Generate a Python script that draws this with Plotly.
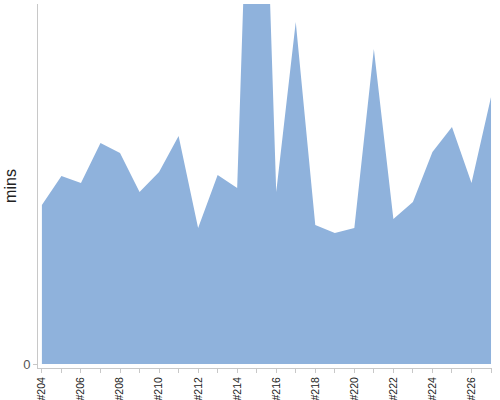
import plotly.graph_objects as go

builds = ['#%d' % n for n in range(204, 228)]
mins = [15.9, 18.8, 18.1, 22.1, 21.1, 17.2, 19.2, 22.8, 13.6, 18.9, 17.6, 77.4,
        17.2, 34.2, 13.9, 13.1, 13.6, 31.5, 14.5, 16.2, 21.2, 23.7, 18.1, 26.7]
tick_labels = [b if i % 2 == 0 else '' for i, b in enumerate(builds)]

fig = go.Figure()
fig.add_trace(go.Scatter(
    x=builds, y=mins,
    mode='lines',
    line=dict(width=0, color='#8fb2dc'),
    fill='tozeroy',
    fillcolor='#8fb2dc',
    hoverinfo='skip',
))

fig.update_layout(
    width=500, height=400,
    margin=dict(l=38, r=8, t=4, b=32),
    plot_bgcolor='white',
    paper_bgcolor='white',
    showlegend=False,
    font=dict(family='Liberation Sans, Arial, sans-serif', color='#444'),
)
fig.update_xaxes(
    type='category', automargin=False,
    range=[-0.2, 23.05],
    tickmode='array', tickvals=builds, ticktext=tick_labels,
    tickangle=-90,
    tickfont=dict(size=10.5, color='#222'),
    showline=True, linecolor='#c8c8c8', linewidth=1,
    ticks='outside', ticklen=4, tickcolor='#c8c8c8',
    showgrid=False, zeroline=False,
)
fig.update_yaxes(
    automargin=False,
    range=[-0.4, 36.0],
    tickmode='array', tickvals=[0], ticktext=['0'],
    tickfont=dict(size=13, color='#555'),
    showline=True, linecolor='#c8c8c8', linewidth=1,
    ticks='outside', ticklen=4, tickcolor='#c8c8c8',
    showgrid=False, zeroline=False,
    title=dict(text='mins', font=dict(size=16, color='#222'), standoff=2),
)

# drop the default page margin so the figure sits at the window corner
fig.write_html('out.html', config={'displayModeBar': False},
               post_script="document.body.style.margin='0';")
